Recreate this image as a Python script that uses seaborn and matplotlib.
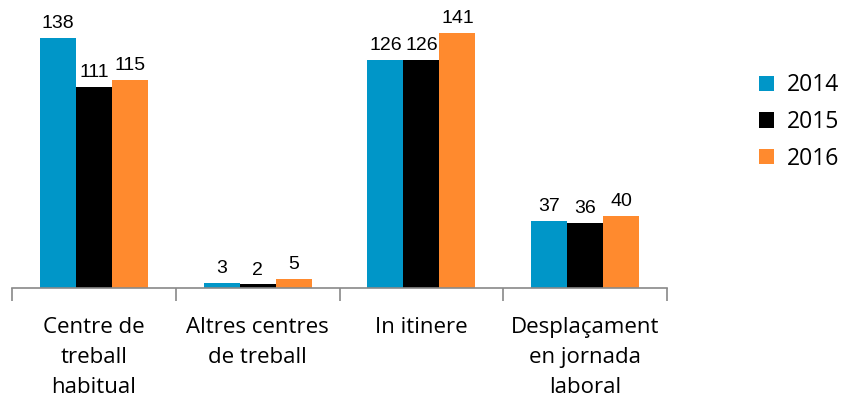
import pandas as pd
import matplotlib.pyplot as plt
import seaborn as sns

categories = ["Centre de\ntreball\nhabitual", "Altres centres\nde treball", "In itinere",
              "Desplaçament\nen jornada\nlaboral"]
years = ["2014", "2015", "2016"]
values_2014 = [138, 3, 126, 37]
values_2015 = [111, 2, 126, 36]
values_2016 = [115, 5, 141, 40]
colors = ["#0096C8", "#000000", "#FF8A2E"]

rows = []
for year, vals in zip(years, [values_2014, values_2015, values_2016]):
    for cat, v in zip(categories, vals):
        rows.append({"categoria": cat, "any": year, "valor": v})
df = pd.DataFrame(rows)

sns.set_style("white", {"text.color": "black", "xtick.bottom": True})
fig = plt.figure(figsize=(8.41, 4.0), dpi=100)
ax = fig.add_axes([12 / 841, 112 / 400, 655 / 841, 288 / 400])

sns.barplot(data=df, x="categoria", y="valor", hue="any", palette=colors,
            width=0.66, saturation=1, linewidth=0, ax=ax, legend=True)

for cont in ax.containers:
    ax.bar_label(cont, fmt="%d", padding=4, fontsize=14, family="Liberation Sans", color="black")

ax.set_xlim(-0.5, 3.5)
ax.set_ylim(0, 159)
ax.set_xlabel("")
ax.set_ylabel("")
ax.set_yticks([])
for s in ["top", "right", "left"]:
    ax.spines[s].set_visible(False)
ax.spines["bottom"].set_color("#898989")
ax.spines["bottom"].set_linewidth(1.2)

ax.set_xticks([-0.5, 0.5, 1.5, 2.5, 3.5], minor=True)
ax.tick_params(axis="x", which="minor", bottom=True, length=9, width=1.2, color="#898989", direction="out")
ax.tick_params(axis="x", which="major", length=0, pad=21, labelcolor="black")
for lbl in ax.get_xticklabels():
    lbl.set_fontsize(16)
    lbl.set_family("Open Sans")
    lbl.set_linespacing(1.55)

leg = ax.legend(loc="center left", bbox_to_anchor=(738 / 841, 0.695), bbox_transform=fig.transFigure,
                frameon=False, handlelength=0.65, handleheight=0.65, handletextpad=0.6,
                labelspacing=0.55, prop={"family": "Open Sans", "size": 16.5})
for t in leg.get_texts():
    t.set_color("black")

fig.savefig("out.png", dpi=100)
